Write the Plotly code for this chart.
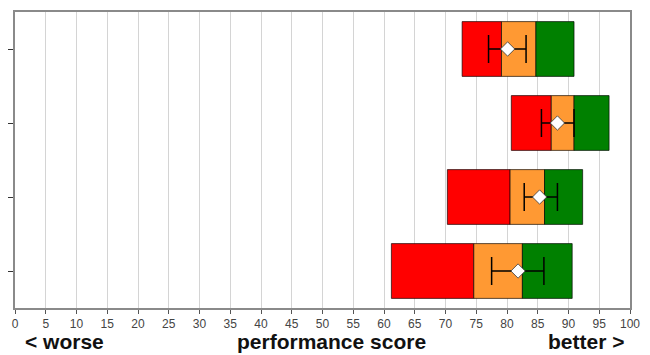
import plotly.graph_objects as go

# Score bands per group (top to bottom), 0-100 performance scale
groups = ["Group 1", "Group 2", "Group 3", "Group 4"]
red_start = [72.7, 80.7, 70.3, 61.2]
orange_start = [79.1, 87.2, 80.5, 74.6]
green_start = [84.7, 90.9, 86.1, 82.5]
green_end = [90.9, 96.6, 92.3, 90.6]

# Mean score with lower / upper interval
mean_score = [80.1, 88.2, 85.3, 81.8]
ci_low = [77.0, 85.6, 82.8, 77.5]
ci_high = [83.1, 90.9, 88.2, 86.0]

tick_values = list(range(0, 101, 5))

ypos = list(range(len(groups)))
edge = dict(color="rgba(0,0,0,0.65)", width=1)
bar_w = 0.74

fig = go.Figure()
bands = [
    (red_start, orange_start, "#ff0000"),
    (orange_start, green_start, "#ff9933"),
    (green_start, green_end, "#008000"),
]
for lo, hi, col in bands:
    fig.add_trace(go.Bar(
        y=ypos, base=lo, x=[h - l for l, h in zip(lo, hi)],
        orientation="h", width=bar_w,
        marker=dict(color=col, line=edge),
        hoverinfo="skip", showlegend=False,
    ))

fig.add_trace(go.Scatter(
    x=mean_score, y=ypos, mode="markers",
    marker=dict(symbol="diamond", size=11, color="white",
                line=dict(color="#333333", width=0.8)),
    error_x=dict(type="data", symmetric=False,
                 array=[h - m for h, m in zip(ci_high, mean_score)],
                 arrayminus=[m - l for m, l in zip(mean_score, ci_low)],
                 color="black", thickness=1.5, width=14),
    showlegend=False,
))

fig.update_layout(
    width=650, height=355,
    margin=dict(l=12, r=10, t=10, b=47),
    paper_bgcolor="white", plot_bgcolor="white",
    barmode="overlay",
    font=dict(family="Liberation Sans Narrow, Liberation Sans, Arial", color="#333333"),
)
fig.update_xaxes(
    range=[0, 100], tickvals=tick_values, ticktext=[str(v) for v in tick_values],
    showgrid=True, gridcolor="#d4d4d4", gridwidth=1,
    showline=True, linecolor="#8a8a8a", linewidth=1.5, mirror=True,
    ticks="outside", ticklen=4, tickcolor="#555555",
    tickfont=dict(size=12, color="#444444"), zeroline=False,
)
fig.update_yaxes(
    range=[3.5, -0.5], tickvals=ypos, ticktext=["" for _ in ypos],
    showgrid=False, showline=True, linecolor="#8a8a8a", linewidth=1.5, mirror=True,
    ticks="outside", ticklen=5, tickcolor="#333333", zeroline=False,
)

label_font = dict(family="Liberation Sans, Arial", size=21, color="#111111")
for txt, xc in [("< worse", 63), ("performance score", 335), ("better >", 595)]:
    fig.add_annotation(
        text="<b>%s</b>" % txt, xref="paper", yref="paper",
        x=(xc - 12) / 628, y=-(342 - 308) / 298, xanchor="center", yanchor="middle",
        showarrow=False, font=label_font,
    )

fig.write_html("out.html")
